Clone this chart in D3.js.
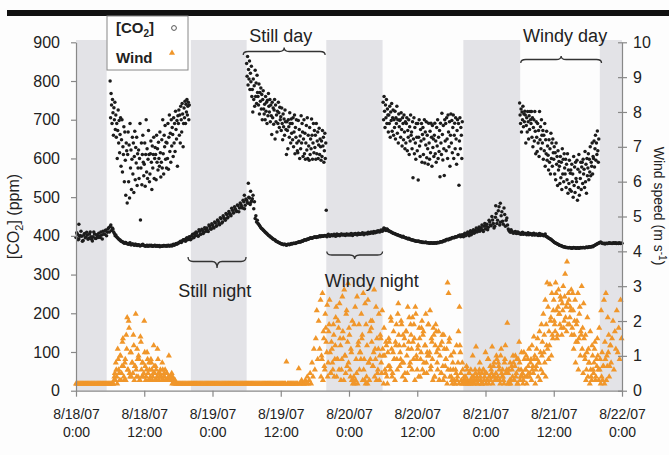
<!DOCTYPE html>
<html>
<head>
<meta charset="utf-8">
<script src="https://cdn.jsdelivr.net/npm/d3@7"></script>
<style>
  body { margin: 0; background: #fdfdfd; }
  svg { display: block; font-family: "Liberation Sans", Arial, sans-serif; }
</style>
</head>
<body>
<div id="chart"></div>
<script>
// times are hours since 8/18/07 0:00
const co2Step = 0.25;
const co2Base = [
  396,404,392,401, 399,388,406,397, 402,394,410,391, 398,405,393,400,
  407,396,402,412, 404,415,409,421, 424,414,418,406, 402,396,392,389,
  386,384,381,383, 380,378,382,377, 379,376,378,375, 377,374,376,378,
  375,373,376,374, 374,376,373,375, 373,375,374,372, 374,373,375,374,
  373,376,374,375, 377,376,379,378, 381,384,383,388, 390,386,395,392,
  398,392,404,396, 401,408,399,412, 405,414,409,418, 420,411,425,417,
  428,420,433,426, 438,429,444,436, 447,440,455,449, 458,452,466,460,
  470,463,478,472, 481,472,488,479, 492,484,498,487, 496,470,445,436,
  432,427,421,418, 414,410,407,403, 400,397,394,391, 389,386,384,382,
  380,379,377,378, 376,378,377,379, 379,381,380,382, 383,385,384,387,
  388,390,389,392, 393,395,394,396, 397,396,398,399, 398,400,399,401,
  400,402,401,400, 402,401,403,400, 401,403,402,404, 403,402,404,403,
  404,402,405,403, 405,404,403,406, 404,406,405,407, 406,405,408,407,
  408,407,410,409, 410,412,411,414, 416,419,414,417, 413,411,409,407,
  406,404,403,401, 400,398,399,396, 395,393,394,391, 390,389,388,387,
  386,387,385,384, 384,383,384,382, 382,381,382,381, 381,382,383,382,
  384,385,386,388, 389,391,390,393, 394,396,395,398, 398,400,402,399,
  401,404,400,406, 405,409,403,411, 407,414,410,418, 412,421,415,425,
  418,430,422,436, 426,441,420,448, 432,465,428,452, 438,472,425,446,
  418,412,416,410, 408,411,406,409, 407,404,409,405, 406,403,408,404,
  405,402,407,403, 404,401,406,402, 403,400,405,398, 396,393,391,388,
  385,382,380,378, 376,375,373,372, 371,370,369,370, 369,368,370,369,
  368,369,368,370, 369,370,369,371, 370,372,371,373, 374,376,378,380,
  382,384,381,380, 379,381,380,382, 381,380,382,381, 380,381,382,380,
  381
];
// second logger channel, offset by 7.5 minutes
const co2Base2Start = 0.125;
const co2Base2 = [
  408,390,399,412, 386,402,395,409, 391,405,398,387, 410,394,403,396,
  399,410,392,405, 413,400,418,410, 428,420,410,400, 398,394,390,387,
  385,382,383,380, 379,381,377,379, 377,378,376,377, 376,375,377,375,
  374,375,373,376, 375,373,374,376, 374,373,375,373, 373,375,374,375,
  375,374,376,374, 378,377,380,381, 383,386,385,390, 388,393,390,397,
  390,400,395,407, 410,400,416,404, 417,406,421,412, 414,428,419,431,
  422,436,425,441, 432,447,433,452, 444,458,446,463, 455,471,459,475,
  466,480,462,485, 476,492,470,495, 486,500,481,491, 505,488,452,440,
  430,424,419,416, 412,408,405,401, 398,395,392,390, 387,385,383,381,
  379,378,378,377, 377,378,378,380, 380,381,381,383, 384,384,386,386,
  389,389,391,391, 394,394,395,397, 397,398,397,400, 399,399,400,400,
  398,404,399,403, 400,404,399,405, 403,400,405,402, 404,401,405,402,
  403,406,401,405, 406,403,407,404, 405,408,403,406, 407,409,406,410,
  409,411,408,412, 413,410,415,412, 420,415,418,413, 412,410,408,406,
  405,403,402,400, 399,397,397,395, 394,392,392,390, 389,388,387,386,
  386,385,385,383, 383,383,382,382, 381,382,381,382, 382,381,383,383,
  385,384,387,387, 390,390,392,392, 395,395,397,397, 399,401,398,403,
  398,407,402,410, 400,413,406,416, 409,420,412,423, 416,428,411,432,
  425,416,440,428, 450,432,425,458, 440,475,435,462, 430,455,440,428,
  414,409,412,407, 410,407,410,406, 405,408,404,407, 405,407,403,406,
  403,406,402,405, 402,405,401,404, 401,403,399,397, 394,392,389,386,
  383,381,379,377, 375,374,372,371, 370,370,369,369, 368,369,369,368,
  369,368,369,369, 370,369,370,370, 371,371,372,372, 375,377,379,381,
  383,382,380,381, 380,380,381,381, 381,381,381,382, 381,380,381,381
];
const co2Outliers = [[0.5, 430], [29.6, 505], [30.3, 536], [30.7, 515], [44.0, 466], [73.8, 478], [74.6, 484]];

// daytime readings, one every 5 minutes
const cloudStep = 1 / 12;
const cloudStarts = [6, 30, 54, 78];
const co2Day1 = [
  800,705,768,738,690,752,718,660,731,700,745,675,
  712,655,690,600,672,725,640,698,615,662,705,580,
  648,700,565,630,610,682,540,668,595,505,640,620,
  485,610,668,540,635,498,690,575,622,520,598,655,
  560,640,512,605,670,545,628,588,655,530,612,575,
  622,548,600,690,441,575,640,532,610,660,590,555,
  585,640,528,610,700,565,625,548,598,672,610,540,
  560,612,645,590,520,632,575,610,655,548,600,628,
  610,545,660,590,625,570,642,600,580,668,615,552,
  590,648,575,700,612,560,660,630,685,598,642,575,
  640,600,690,572,655,712,618,665,590,700,632,680,
  662,605,705,640,690,618,722,675,650,698,580,710,
  690,725,660,712,640,735,700,668,742,715,630,690,
  730,705,748,690,740,720,752,712,735,745,700,738
];
const co2Day2 = [
  845,812,863,790,830,805,852,778,820,798,838,760,
  778,720,805,752,788,735,828,760,795,742,815,770,
  760,738,792,715,770,748,782,728,765,700,752,775,
  728,715,740,700,760,722,745,690,750,710,768,735,
  720,752,695,738,710,662,745,705,730,688,725,752,
  650,738,695,712,668,722,690,745,718,680,732,700,
  708,672,730,690,648,715,682,702,660,725,695,675,
  610,695,672,625,700,682,655,718,690,640,702,665,
  690,648,705,630,668,712,612,680,655,700,640,620,
  615,698,645,675,600,658,625,710,640,690,668,605,
  650,700,612,665,598,640,685,622,705,600,660,632,
  595,680,610,650,625,702,660,598,640,690,615,672,
  628,660,598,690,612,645,668,600,635,678,610,650,
  630,595,645,605,672,632,655,590,620,665,600,640
];
const co2Day3 = [
  745,700,760,722,680,738,705,752,690,728,712,668,
  712,690,735,655,720,698,742,670,705,725,660,700,
  680,722,650,705,690,735,665,700,640,715,682,698,
  700,655,718,675,632,705,690,648,712,668,625,695,
  640,690,705,620,672,655,700,610,682,645,712,660,
  668,625,695,550,650,705,612,680,640,598,690,655,
  620,690,544,655,700,632,605,675,645,690,590,662,
  680,610,650,700,588,668,635,695,602,660,625,585,
  691,640,598,670,615,691,655,580,685,628,650,605,
  660,691,612,645,590,680,632,700,600,655,618,672,
  553,691,640,610,717,662,596,685,625,556,700,645,
  690,620,705,650,600,712,668,630,695,580,660,715,
  640,698,615,680,712,600,660,691,625,705,650,585,
  672,700,610,690,531,645,705,625,680,660,600,695
];
const co2Day4 = [
  743,712,690,728,668,720,700,735,682,715,695,722,
  712,640,685,705,668,721,695,650,710,675,721,700,
  690,721,655,705,630,680,700,645,721,670,612,695,
  655,618,690,640,672,605,721,648,682,625,700,660,
  640,672,598,660,620,690,580,648,612,670,595,632,
  608,570,648,590,625,560,665,600,640,580,650,615,
  598,630,560,615,545,640,585,605,530,620,570,592,
  580,535,605,550,590,520,625,560,598,540,612,575,
  560,598,525,585,545,612,510,570,535,595,520,562,
  570,515,585,540,560,500,605,530,578,512,590,548,
  540,595,492,572,525,610,505,565,548,590,520,578,
  590,535,598,560,572,525,618,540,585,510,600,555,
  575,612,545,598,565,630,555,590,580,640,560,605,
  600,645,578,625,660,595,640,610,671,620,590,650
];

// wind speed (m/s), one every 10 minutes
const windStep = 1 / 6;
const windSpeed = [
  0.2,0.2,0.2,0.2,0.2,0.2, 0.2,0.2,0.2,0.2,0.2,0.2, 0.2,0.2,0.2,0.2,0.2,0.2,
  0.2,0.2,0.2,0.2,0.2,0.2, 0.2,0.2,0.2,0.2,0.2,0.2, 0.2,0.2,0.2,0.2,0.2,0.2,
  0.2,0.2,0.2,0.2,0.3,0.5, 0.8,0.4,1.2,0.6,0.3,1.0, 0.5,1.4,0.7,0.3,0.9,1.6,
  2.1,0.6,1.8,0.4,1.1,0.8, 0.5,1.3,0.7,2.2,0.4,0.9, 1.0,0.3,1.55,0.6,0.8,0.4,
  2.0,0.7,0.4,1.1,0.5,0.8, 0.3,0.9,0.6,0.4,1.3,0.5, 0.7,0.3,1.2,0.5,0.4,0.6,
  0.4,0.8,0.3,0.5,0.6,0.3, 0.5,0.3,1.0,0.4,0.3,0.5, 0.4,0.3,0.3,0.2,0.2,0.2,
  0.2,0.2,0.2,0.2,0.2,0.2, 0.2,0.2,0.2,0.2,0.2,0.2, 0.2,0.2,0.2,0.2,0.2,0.2,
  0.2,0.2,0.2,0.2,0.2,0.2, 0.2,0.2,0.2,0.2,0.2,0.2, 0.2,0.2,0.2,0.2,0.2,0.2,
  0.2,0.2,0.2,0.2,0.2,0.2, 0.2,0.2,0.2,0.2,0.2,0.2, 0.2,0.2,0.2,0.2,0.2,0.2,
  0.2,0.2,0.2,0.2,0.2,0.2, 0.2,0.2,0.2,0.2,0.2,0.2, 0.2,0.2,0.2,0.2,0.2,0.2,
  0.2,0.2,0.2,0.2,0.2,0.2, 0.2,0.2,0.2,0.2,0.2,0.2, 0.2,0.2,0.2,0.2,0.2,0.2,
  0.2,0.2,0.2,0.2,0.2,0.2, 0.2,0.2,0.2,0.2,0.2,0.2, 0.2,0.2,0.2,0.2,0.2,0.2,
  0.2,0.2,0.2,0.2,0.2,0.2, 0.83,0.2,0.2,0.2,0.2,0.2, 0.2,0.2,0.2,0.2,0.2,0.2,
  0.2,0.64,0.2,0.2,0.3,0.2, 0.2,0.2,0.3,0.2,0.4,0.2, 0.3,0.5,0.2,0.8,0.4,1.2,
  0.6,1.5,2.3,0.9,2.0,1.2, 2.6,1.0,2.8,1.7,0.7,2.2, 1.4,2.46,0.8,1.9,1.1,0.5,
  1.2,0.6,1.6,0.9,2.1,0.4, 0.9,1.8,2.5,1.3,0.6,2.7, 1.5,2.9,1.0,2.2,0.7,3.08,
  1.8,0.6,1.2,0.3,0.2,0.4, 0.2,0.3,0.5,0.2,1.4,0.6, 1.1,2.2,1.6,2.8,0.9,2.5,
  1.9,1.3,2.6,0.8,1.7,2.0, 1.4,0.7,1.1,0.4,0.9,0.3, 0.5,1.2,0.3,1.6,0.8,2.3,
  1.0,1.8,0.6,1.4,0.4,1.1, 1.5,0.7,2.1,1.2,0.5,1.7, 0.9,1.4,1.9,0.6,2.5,1.3,
  1.1,2.0,0.8,1.6,1.3,0.5, 1.7,1.0,2.4,1.4,0.7,1.9, 1.2,2.1,0.9,1.5,2.4,1.0,
  0.6,1.3,1.8,0.4,1.1,2.0, 1.6,0.8,1.3,2.2,0.5,1.0, 1.9,1.1,0.6,1.5,0.9,1.8,
  0.4,1.3,1.7,0.8,1.2,0.3, 1.0,0.5,1.4,0.7,1.6,0.4, 0.9,1.2,3.1,2.8,1.5,0.6,
  0.4,0.2,0.6,0.3,0.2,0.5, 0.3,0.8,0.2,1.3,0.5,0.2, 0.6,0.3,0.2,0.4,0.7,0.3,
  0.2,0.5,0.3,0.2,0.4,0.2, 0.3,0.6,1.26,0.4,0.2,0.5, 0.8,0.3,0.5,0.2,0.6,0.4,
  1.1,0.5,0.3,0.9,0.4,0.7, 0.6,1.26,0.4,0.8,0.3,0.5, 0.9,0.4,0.7,0.3,1.0,0.5,
  0.6,0.3,0.8,1.3,0.5,1.94, 0.5,0.2,0.8,0.3,0.6,1.0, 0.3,0.7,0.4,0.9,0.2,0.6,
  0.8,0.4,1.1,0.5,0.3,0.9, 0.6,1.0,0.4,0.7,1.2,0.5, 0.9,1.3,0.7,1.55,1.0,0.6,
  1.2,1.5,0.8,1.7,1.1,1.9, 1.4,2.2,1.6,2.6,1.9,3.1, 2.4,1.7,3.05,2.1,2.8,1.5,
  2.6,1.9,3.1,2.3,1.6,2.9, 2.2,2.7,1.8,2.5,3.0,2.0, 3.35,2.4,3.7,1.9,2.6,2.1,
  2.3,1.6,2.8,1.2,2.0,0.8, 1.9,1.4,0.6,2.2,1.0,1.6, 1.2,0.5,1.5,0.9,0.3,1.1,
  0.4,0.8,0.2,0.6,0.3,1.0, 0.5,1.2,0.3,0.9,1.5,0.6, 1.8,0.9,2.3,1.1,0.7,2.6,
  1.4,2.8,1.0,2.1,1.6,0.7, 1.3
];
// second anemometer reading, 5 minutes after the first, while the wind blows
const windDay1bStart = 6.583;
const windDay1b = [
  0.2,0.4,0.3,0.6,0.2,0.9, 0.5,1.0,0.3,0.7,1.5,0.4, 0.8,0.3,1.2,0.6,2.0,0.5,
  1.1,0.4,0.8,1.6,0.3,0.7, 0.6,1.2,0.4,0.9,0.3,1.4, 0.4,0.8,0.5,1.1,0.3,0.6,
  0.9,0.3,0.6,0.4,0.8,0.3, 0.5,0.7,0.3,0.6,0.4,0.9, 0.3,0.5,0.4,0.3,0.6,0.4,
  0.4,0.3,0.5,0.3,0.4,0.3, 0.3,0.4,0.2,0.3,0.2,0.3
];
const windLatebStart = 43.083;
const windLateb = [
  0.4,0.9,0.3,1.5,0.6,1.8, 1.1,0.4,1.7,2.6,0.5,1.4, 0.8,1.9,0.4,1.3,2.4,0.9,
  2.0,0.6,1.5,0.3,0.9,1.7, 0.3,1.0,0.5,2.3,1.4,0.8, 1.6,0.4,1.1,2.0,0.3,1.9,
  2.4,0.9,2.7,1.3,1.9,1.1, 0.9,1.5,0.3,0.6,0.3,0.2, 0.4,0.2,0.8,0.3,0.9,1.8,
  2.0,0.7,2.9,1.2,2.4,1.5, 0.6,2.2,1.0,1.5,0.5,1.2, 0.2,1.0,0.5,1.3,0.2,0.7,
  1.4,0.6,2.0,0.4,1.1,0.9, 0.3,1.3,0.9,2.2,1.6,0.7, 0.9,1.9,0.4,0.8,1.5,0.3,
  1.7,0.5,1.2,2.1,0.8,1.6, 0.6,1.4,1.9,0.3,2.2,0.9, 1.2,0.4,1.5,0.9,1.8,0.6,
  1.7,0.5,1.3,0.8,1.1,1.9, 1.0,2.3,0.7,1.4,0.3,1.6, 0.4,1.9,1.1,0.6,1.7,0.3,
  1.3,0.5,1.6,0.3,1.2,0.7, 0.9,0.2,0.6,1.4,0.4,1.0, 0.3,0.8,1.1,0.2,0.6,1.3,
  0.4,1.7,2.4,1.1,0.3,0.8, 0.2,0.4,0.3,0.2,0.6,0.2, 0.5,0.2,0.6,0.3,1.0,0.4,
  0.2,0.5,0.3,0.2,0.3,0.6, 0.4,0.2,0.2,0.6,0.3,0.5, 0.2,0.3,0.9,0.2,0.4,0.3,
  0.5,0.2,0.7,0.4,0.3,1.0, 0.3,0.8,0.6,0.2,1.2,0.4, 0.4,0.2,0.9,0.5,0.6,0.2,
  0.6,0.3,0.2,0.7,0.4,0.8, 0.3,1.0,0.5,0.2,0.9,1.4, 0.3,0.6,0.4,0.2,1.1,0.4,
  0.6,0.2,0.9,0.5,0.4,0.8, 0.3,0.6,0.5,0.9,0.2,0.7, 0.9,0.4,0.8,0.3,0.6,1.0,
  0.5,1.1,0.8,0.4,1.3,1.2, 0.9,1.3,2.0,1.0,1.6,2.3, 2.0,1.7,2.8,1.5,2.4,2.2,
  1.9,2.6,1.6,2.3,1.8,2.7, 2.1,1.7,2.5,2.8,1.9,2.4, 2.9,1.8,2.3,1.6,2.6,1.4,
  2.0,2.8,1.5,2.4,1.7,3.0, 1.8,2.5,1.0,1.6,0.6,2.1, 1.2,0.8,1.7,0.4,1.3,0.6,
  0.8,1.4,0.4,0.7,1.0,0.3, 0.6,0.2,0.4,0.3,0.7,0.2, 0.9,0.3,0.7,1.1,0.4,1.3,
  0.8,1.5,2.0,0.6,1.7,1.2, 2.3,1.1,1.8,0.9,2.6,1.5
];

const nightBands = [[0, 5.4], [20.2, 30], [44, 53.9], [68.1, 78.1], [92.1, 96]];
const xTicks = [0, 12, 24, 36, 48, 60, 72, 84, 96];
const xTickDates = ["8/18/07", "8/18/07", "8/19/07", "8/19/07", "8/20/07", "8/20/07", "8/21/07", "8/21/07", "8/22/07"];
const xTickTimes = ["0:00", "12:00", "0:00", "12:00", "0:00", "12:00", "0:00", "12:00", "0:00"];
const co2Ticks = [0, 100, 200, 300, 400, 500, 600, 700, 800, 900];
const windTicks = [0, 1, 2, 3, 4, 5, 6, 7, 8, 9, 10];

const braceLabels = ["Still day", "Windy day", "Still night", "Windy night"];
const braceSpans = [[29.4, 43.8], [78.2, 92.4], [19.7, 29.9], [44.1, 53.9]];
const braceTextAt = [36.0, 86.0, 24.4, 52.0];

function drawChart() {
  const W = 669, H = 455;
  const svg = d3.select("#chart").append("svg").attr("width", W).attr("height", H);

  const x = d3.scaleLinear([0, 96], [76, 622]);
  const yCo2 = d3.scaleLinear([0, 900], [390.7, 42.3]);
  const yWind = d3.scaleLinear([0, 10], [390.7, 42.3]);

  svg.append("rect").attr("x", 7).attr("y", 10).attr("width", W - 7).attr("height", 6).attr("fill", "#111");

  svg.append("g").selectAll("rect")
    .data(nightBands)
    .join("rect")
    .attr("x", (d) => x(d[0]))
    .attr("y", 40)
    .attr("width", (d) => x(d[1]) - x(d[0]))
    .attr("height", yCo2(0) - 40)
    .attr("fill", "#e3e3e7");

  // CO2 points
  const co2Pts = co2Base.map((v, i) => [i * co2Step, v]);
  co2Base2.forEach((v, i) => co2Pts.push([co2Base2Start + i * co2Step, v]));
  [co2Day1, co2Day2, co2Day3, co2Day4].forEach((day, k) => {
    day.forEach((v, i) => co2Pts.push([cloudStarts[k] + i * cloudStep, v]));
  });
  co2Outliers.forEach((d) => co2Pts.push(d));

  svg.append("g").selectAll("circle")
    .data(co2Pts)
    .join("circle")
    .attr("cx", (d) => x(d[0]))
    .attr("cy", (d) => yCo2(d[1]))
    .attr("r", 1.75)
    .attr("fill", "#1c1c1c");

  // wind triangles
  const windPts = windSpeed.map((v, i) => [i * windStep, v]);
  windDay1b.forEach((v, i) => windPts.push([windDay1bStart + i * windStep, v]));
  windLateb.forEach((v, i) => windPts.push([windLatebStart + i * windStep, v]));

  const tri = d3.symbol(d3.symbolTriangle, 16);
  svg.append("g").selectAll("path")
    .data(windPts)
    .join("path")
    .attr("d", tri)
    .attr("transform", (d) => `translate(${x(d[0])},${yWind(d[1])})`)
    .attr("fill", "#f0962a");

  // braces
  const braceY = [
    { line: 51.5, end: 55, tip: 47.5, text: 41.5 },
    { line: 59.5, end: 63, tip: 56, text: 41.5 },
    { line: 261.5, end: 257, tip: 268, text: 296.5 },
    { line: 255, end: 251.5, tip: 259, text: 286.5 },
  ];
  braceLabels.forEach((label, i) => {
    const [a, b] = braceSpans[i].map(x);
    const m = (a + b) / 2;
    const p = braceY[i];
    const r = 5;
    const path = `M${a},${p.end} Q${a},${p.line} ${a + r},${p.line} L${m - r},${p.line} Q${m},${p.line} ${m},${p.tip}` +
      ` Q${m},${p.line} ${m + r},${p.line} L${b - r},${p.line} Q${b},${p.line} ${b},${p.end}`;
    svg.append("path").attr("d", path).attr("fill", "none").attr("stroke", "#333").attr("stroke-width", 1.3);
    svg.append("text")
      .attr("x", x(braceTextAt[i]))
      .attr("y", p.text)
      .attr("text-anchor", "middle")
      .attr("font-size", 18)
      .attr("fill", "#222")
      .text(label);
  });

  // axes
  const left = svg.append("g")
    .attr("transform", "translate(76,0)")
    .call(d3.axisLeft(yCo2).tickValues(co2Ticks).tickSize(5).tickSizeOuter(0).tickPadding(11));
  left.selectAll("text").attr("font-size", 16).attr("fill", "#222").attr("font-family", null);

  const right = svg.append("g")
    .attr("transform", "translate(622,0)")
    .call(d3.axisRight(yWind).tickValues(windTicks).tickSize(5).tickSizeOuter(0).tickPadding(6));
  right.selectAll(".tick line").attr("x1", -4);
  right.selectAll("text").attr("font-size", 16).attr("fill", "#222").attr("font-family", null);

  const bottom = svg.append("g")
    .attr("transform", `translate(0,${yCo2(0)})`)
    .call(d3.axisBottom(x).tickValues(xTicks).tickSize(6).tickSizeOuter(0).tickFormat(""));
  bottom.selectAll(".tick").each(function (d, i) {
    const t = d3.select(this).append("text")
      .attr("fill", "#222")
      .attr("font-size", 14)
      .attr("font-family", "Liberation Sans, Arial, sans-serif")
      .attr("text-anchor", "middle");
    t.append("tspan").attr("x", 0).attr("y", 28).text(xTickDates[i]);
    t.append("tspan").attr("x", 0).attr("y", 46.5).text(xTickTimes[i]);
  });

  svg.selectAll(".domain, .tick line").attr("stroke", "#888").attr("stroke-width", 1.2);

  // axis titles
  const lt = svg.append("text")
    .attr("transform", "translate(19,216.5) rotate(-90)")
    .attr("text-anchor", "middle")
    .attr("font-size", 16)
    .attr("fill", "#222");
  lt.append("tspan").text("[CO");
  lt.append("tspan").attr("font-size", 11).attr("dy", 4).text("2");
  lt.append("tspan").attr("dy", -4).text("] (ppm)");

  const rt = svg.append("text")
    .attr("transform", "translate(654,206) rotate(90)")
    .attr("text-anchor", "middle")
    .attr("font-size", 14)
    .attr("fill", "#222");
  rt.append("tspan").text("Wind speed (m s");
  rt.append("tspan").attr("font-size", 10).attr("dy", -5).text("-1");
  rt.append("tspan").attr("dy", 5).text(")");

  // legend
  const lg = svg.append("g");
  lg.append("rect").attr("x", 107).attr("y", 16).attr("width", 81).attr("height", 54)
    .attr("fill", "#fff").attr("stroke", "#888").attr("stroke-width", 1);
  const l1 = lg.append("text").attr("x", 116).attr("y", 33).attr("font-size", 15)
    .attr("font-weight", "bold").attr("fill", "#222");
  l1.append("tspan").text("[CO");
  l1.append("tspan").attr("font-size", 10).attr("dy", 4).text("2");
  l1.append("tspan").attr("dy", -4).text("]");
  lg.append("circle").attr("cx", 174).attr("cy", 28).attr("r", 2.4)
    .attr("fill", "none").attr("stroke", "#555").attr("stroke-width", 1);
  lg.append("text").attr("x", 116).attr("y", 63).attr("font-size", 15)
    .attr("font-weight", "bold").attr("fill", "#222").text("Wind");
  lg.append("path").attr("d", d3.symbol(d3.symbolTriangle, 16)).attr("transform", "translate(172,53)")
    .attr("fill", "#f0962a");
}

drawChart();
</script>
</body>
</html>
